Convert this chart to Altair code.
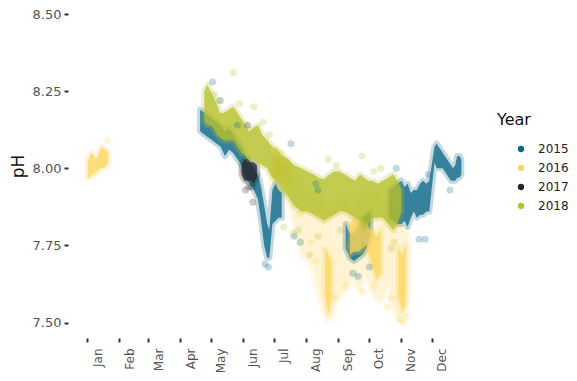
import altair as alt
import pandas as pd

YEARS = ["2015", "2016", "2017", "2018"]
COLORS = ["#0b6787", "#fdd65e", "#262626", "#b6c12b"]
MONTHS = [1, 2, 3, 4, 5, 6, 7, 8, 9, 10, 11, 12]
Y_TICKS = [7.5, 7.75, 8.0, 8.25, 8.5]

# ---- dense core ranges (date MM-DD, low pH, high pH) ----
core_2015_dates = ["04-20", "04-24", "04-28", "05-02", "05-06", "05-10", "05-14", "05-18", "05-22", "05-26",
                   "05-30", "06-03", "06-07", "06-11", "06-15", "06-18", "06-21", "06-24", "06-26", "06-29",
                   "07-02", "07-05", "07-08", "09-08", "09-12", "09-16", "09-20", "09-24", "09-28", "10-02",
                   "10-20", "10-24", "10-28", "11-01", "11-04", "11-07", "11-10", "11-13", "11-16", "11-19",
                   "11-22", "11-25", "11-28", "12-03", "12-05", "12-07", "12-09", "12-11", "12-13", "12-15",
                   "12-17", "12-19", "12-21", "12-23", "12-25", "12-27", "12-29"]
core_2015_lo = [8.12, 8.11, 8.10, 8.09, 8.08, 8.07, 8.04, 8.06, 8.05, 8.03,
                8.01, 7.97, 7.95, 7.93, 7.90, 7.83, 7.75, 7.71, 7.71, 7.82,
                7.83, 7.84, 7.84, 7.74, 7.71, 7.70, 7.71, 7.72, 7.74, 7.78,
                7.84, 7.83, 7.82, 7.82, 7.83, 7.81, 7.84, 7.86, 7.84, 7.85,
                7.85, 7.86, 7.86, 8.02, 8.00, 8.00, 8.00, 8.00, 7.99, 7.98,
                7.97, 7.96, 7.96, 7.96, 7.97, 7.97, 7.98]
core_2015_hi = [8.19, 8.18, 8.17, 8.16, 8.15, 8.14, 8.12, 8.13, 8.11, 8.09,
                8.07, 8.04, 8.02, 8.00, 7.98, 7.94, 7.88, 7.82, 7.80, 7.93,
                7.95, 7.93, 7.92, 7.82, 7.79, 7.79, 7.81, 7.84, 7.85, 7.86,
                7.93, 7.94, 7.95, 7.96, 7.94, 7.95, 7.92, 7.93, 7.93, 7.95,
                7.96, 7.95, 7.96, 8.07, 8.08, 8.07, 8.06, 8.05, 8.04, 8.03,
                8.02, 8.01, 8.00, 8.01, 8.04, 8.04, 8.03]

core_2016_dates = ["01-01", "01-03", "01-05", "01-07", "01-09", "01-11", "01-13", "01-15", "01-17", "01-19",
                   "01-21", "06-30", "07-05", "07-10", "07-15", "08-19", "08-22", "08-25", "09-12", "09-16",
                   "09-20", "09-24", "09-28", "10-08", "10-12", "10-29", "11-02", "11-05"]
core_2016_lo = [7.97, 7.97, 7.98, 7.98, 7.99, 7.99, 8.00, 8.00, 8.00, 8.01,
                8.02, 7.98, 7.97, 7.96, 7.93, 7.60, 7.53, 7.58, 7.72, 7.73,
                7.73, 7.74, 7.75, 7.64, 7.66, 7.58, 7.54, 7.56]
core_2016_hi = [8.02, 8.04, 8.05, 8.04, 8.03, 8.04, 8.06, 8.07, 8.06, 8.06,
                8.05, 8.03, 8.03, 8.02, 8.00, 7.74, 7.72, 7.70, 7.82, 7.84,
                7.83, 7.83, 7.82, 7.78, 7.80, 7.74, 7.72, 7.75]

core_2017_dates = ["05-30", "06-02", "06-05", "06-08", "06-11", "06-14"]
core_2017_lo = [7.98, 7.96, 7.96, 7.96, 7.95, 7.97]
core_2017_hi = [8.01, 8.03, 8.03, 8.02, 8.02, 8.01]

core_2018_dates = ["04-24", "04-27", "04-30", "05-03", "05-06", "05-09", "05-13", "05-18", "05-22", "05-26",
                   "05-30", "06-03", "06-06", "06-10", "06-15", "06-19", "06-24", "06-29", "07-04", "07-09",
                   "07-14", "07-20", "07-27", "08-02", "08-08", "08-13", "08-18", "08-23", "08-28", "09-02",
                   "09-07", "09-12", "09-17", "09-22", "09-26", "09-30", "10-04", "10-09", "10-14", "10-19",
                   "10-24", "10-28", "11-01"]
core_2018_lo = [8.15, 8.14, 8.14, 8.13, 8.11, 8.10, 8.09, 8.09, 8.09, 8.07,
                8.05, 8.04, 8.03, 8.03, 8.02, 8.01, 8.00, 7.97, 7.955, 7.93,
                7.91, 7.88, 7.86, 7.86, 7.85, 7.84, 7.83, 7.84, 7.85, 7.86,
                7.86, 7.85, 7.84, 7.83, 7.80, 7.82, 7.84, 7.84, 7.84, 7.82,
                7.80, 7.82, 7.86]
core_2018_hi = [8.25, 8.27, 8.25, 8.23, 8.21, 8.18, 8.18, 8.19, 8.20, 8.18,
                8.16, 8.14, 8.12, 8.13, 8.14, 8.11, 8.09, 8.07, 8.06, 8.04,
                8.03, 8.01, 8.00, 7.99, 7.98, 7.97, 7.965, 7.98, 7.99, 7.99,
                7.98, 7.97, 7.96, 7.98, 7.97, 7.96, 7.96, 7.95, 7.96, 7.97,
                7.98, 7.96, 7.93]

# ---- sparse (faint) ranges ----
faint_2016_dates = ["06-28", "07-03", "07-08", "07-13", "07-18", "07-23", "07-28", "08-02", "08-07", "08-12",
                    "08-17", "08-21", "08-25", "08-29", "09-02", "09-06", "09-10", "09-14", "09-18", "09-22",
                    "09-26", "09-30", "10-04", "10-08", "10-12", "10-16", "10-20", "10-24", "10-28", "11-01",
                    "11-04", "11-07"]
faint_2016_lo = [7.95, 7.94, 7.92, 7.90, 7.86, 7.78, 7.72, 7.70, 7.68, 7.60,
                 7.55, 7.51, 7.52, 7.56, 7.58, 7.60, 7.62, 7.64, 7.63, 7.60,
                 7.66, 7.64, 7.60, 7.58, 7.57, 7.60, 7.62, 7.55, 7.52, 7.51,
                 7.53, 7.60]
faint_2016_hi = [8.05, 8.06, 8.04, 8.02, 8.00, 7.97, 7.95, 7.93, 7.92, 7.92,
                 7.90, 7.88, 7.86, 7.88, 7.90, 7.92, 7.90, 7.88, 7.90, 7.92,
                 7.92, 7.90, 7.92, 7.93, 7.92, 7.90, 7.90, 7.88, 7.85, 7.82,
                 7.80, 7.78]

# ---- scattered single readings ----
pts_2015_dates = ["05-02", "05-09", "05-26", "06-22", "06-25", "07-17", "07-20", "07-26", "08-10", "08-12",
                  "09-15", "09-20", "10-01", "10-27", "11-18", "11-24", "11-27", "12-18"]
pts_2015_ph = [8.28, 8.22, 8.14, 7.69, 7.68, 8.08, 7.78, 7.76, 7.95, 7.93,
               7.66, 7.65, 7.68, 8.00, 7.77, 7.77, 7.98, 7.93]
pts_2016_dates = ["01-20", "07-01", "07-08", "07-25", "08-05", "08-10", "08-28", "09-08", "09-25", "10-05",
                  "10-18", "10-22", "10-30", "11-03", "11-06"]
pts_2016_ph = [8.09, 8.06, 8.05, 7.85, 7.76, 7.70, 7.58, 7.62, 7.60, 7.62,
               7.55, 7.58, 7.51, 7.50, 7.52]
pts_2017_dates = ["06-05", "06-06", "06-09", "06-10", "06-03"]
pts_2017_ph = [8.14, 7.94, 7.94, 7.89, 7.93]
pts_2018_dates = ["05-22", "05-10", "06-11", "06-20", "07-19", "07-10", "08-04", "08-22", "09-24", "09-24",
                  "09-26", "10-22", "10-25", "07-24", "08-12", "10-05", "09-10", "05-04", "05-28", "06-26",
                  "08-30", "09-03", "10-12"]
pts_2018_ph = [8.31, 8.22, 8.20, 8.15, 7.79, 7.81, 7.72, 8.03, 8.04, 7.73,
               7.75, 7.74, 7.76, 7.80, 7.78, 7.99, 7.75, 8.24, 8.21, 8.11,
               8.01, 7.80, 8.00]


def to_date(md):
    return "2001-" + md + "T12:00:00"


def band(year, dates, lo, hi):
    df = pd.DataFrame({"date": [to_date(d) for d in dates], "lo": lo, "hi": hi, "Year": year})
    t = pd.to_datetime(df["date"])
    gap = t.diff().dt.days.fillna(0) > 12
    df["seg"] = year + "-" + gap.cumsum().astype(str)
    return df


def pts(year, dates, ph):
    return pd.DataFrame({"date": [to_date(d) for d in dates], "pH": ph, "Year": year})


core_df = pd.concat([
    band("2015", core_2015_dates, core_2015_lo, core_2015_hi),
    band("2016", core_2016_dates, core_2016_lo, core_2016_hi),
    band("2017", core_2017_dates, core_2017_lo, core_2017_hi),
    band("2018", core_2018_dates, core_2018_lo, core_2018_hi),
], ignore_index=True)
faint_df = band("2016", faint_2016_dates, faint_2016_lo, faint_2016_hi)
pts_df = pd.concat([
    pts("2015", pts_2015_dates, pts_2015_ph),
    pts("2016", pts_2016_dates, pts_2016_ph),
    pts("2017", pts_2017_dates, pts_2017_ph),
    pts("2018", pts_2018_dates, pts_2018_ph),
], ignore_index=True)

FONT = "DejaVu Sans"
color_scale = alt.Scale(domain=YEARS, range=COLORS)

legend = alt.Legend(
    title="Year", orient="none", legendX=429, legendY=104, padding=0,
    titleFontSize=16, titleFontWeight="normal", titleColor="#111111", titleFont=FONT,
    titlePadding=15, labelFontSize=12, labelColor="#222222", labelFont=FONT,
    symbolType="circle", symbolSize=40, symbolOpacity=1, symbolStrokeWidth=0,
    symbolOffset=18, labelOffset=11, rowPadding=7,
)
color_enc = alt.Color("Year:N", scale=color_scale, legend=legend)
stroke_enc = alt.Stroke("Year:N", scale=color_scale, legend=None)

x_enc = alt.X(
    "date:T",
    scale=alt.Scale(domain=[alt.DateTime(year=2000, month=12, date=13, hours=12),
                            alt.DateTime(year=2002, month=1, date=18, hours=12)]),
    axis=alt.Axis(
        values=[alt.DateTime(year=2001, month=m, date=1) for m in MONTHS],
        format="%b", title=None, labelAngle=270, labelOffset=10, labelPadding=6,
        labelFontSize=12, labelColor="#555555", labelFont=FONT,
        domain=False, grid=False, ticks=True, tickSize=4, tickWidth=2, tickColor="#333333",
    ),
)
y_scale = alt.Scale(domain=[7.45, 8.52], nice=False, zero=False)
y_axis = alt.Axis(
    values=Y_TICKS, format=".2f", title="pH", titleFontSize=17, titleFontWeight="normal",
    titleColor="#111111", titleFont=FONT, titleY=158, titlePadding=5,
    labelFontSize=13, labelColor="#555555", labelFont=FONT, labelPadding=3,
    domain=False, grid=False, ticks=True, tickSize=4, tickWidth=2, tickColor="#333333",
)

faint = alt.Chart(faint_df).mark_area(
    opacity=0.27, strokeWidth=7, strokeOpacity=0.5, strokeJoin="round"
).encode(
    x=x_enc,
    y=alt.Y("lo:Q", scale=y_scale, axis=y_axis),
    y2="hi:Q",
    color=color_enc,
    stroke=stroke_enc,
    detail="seg:N",
)
core = alt.Chart(core_df).mark_area(
    opacity=0.82, strokeWidth=6, strokeOpacity=0.3, strokeJoin="round"
).encode(
    x=x_enc,
    y=alt.Y("lo:Q", scale=y_scale, axis=y_axis),
    y2="hi:Q",
    color=color_enc,
    stroke=stroke_enc,
    detail="seg:N",
)
points = alt.Chart(pts_df).mark_circle(size=50, opacity=0.25).encode(
    x=x_enc,
    y=alt.Y("pH:Q", scale=y_scale, axis=y_axis),
    color=color_enc,
)

chart = alt.layer(faint, core, points).properties(
    width=414, height=330,
    autosize=alt.AutoSizeParams(type="none"),
    padding={"left": 60, "top": 0, "right": 87, "bottom": 35},
    background="white",
).configure_view(stroke=None)

chart.save("out.html", embed_options={"renderer": "svg", "actions": False})
